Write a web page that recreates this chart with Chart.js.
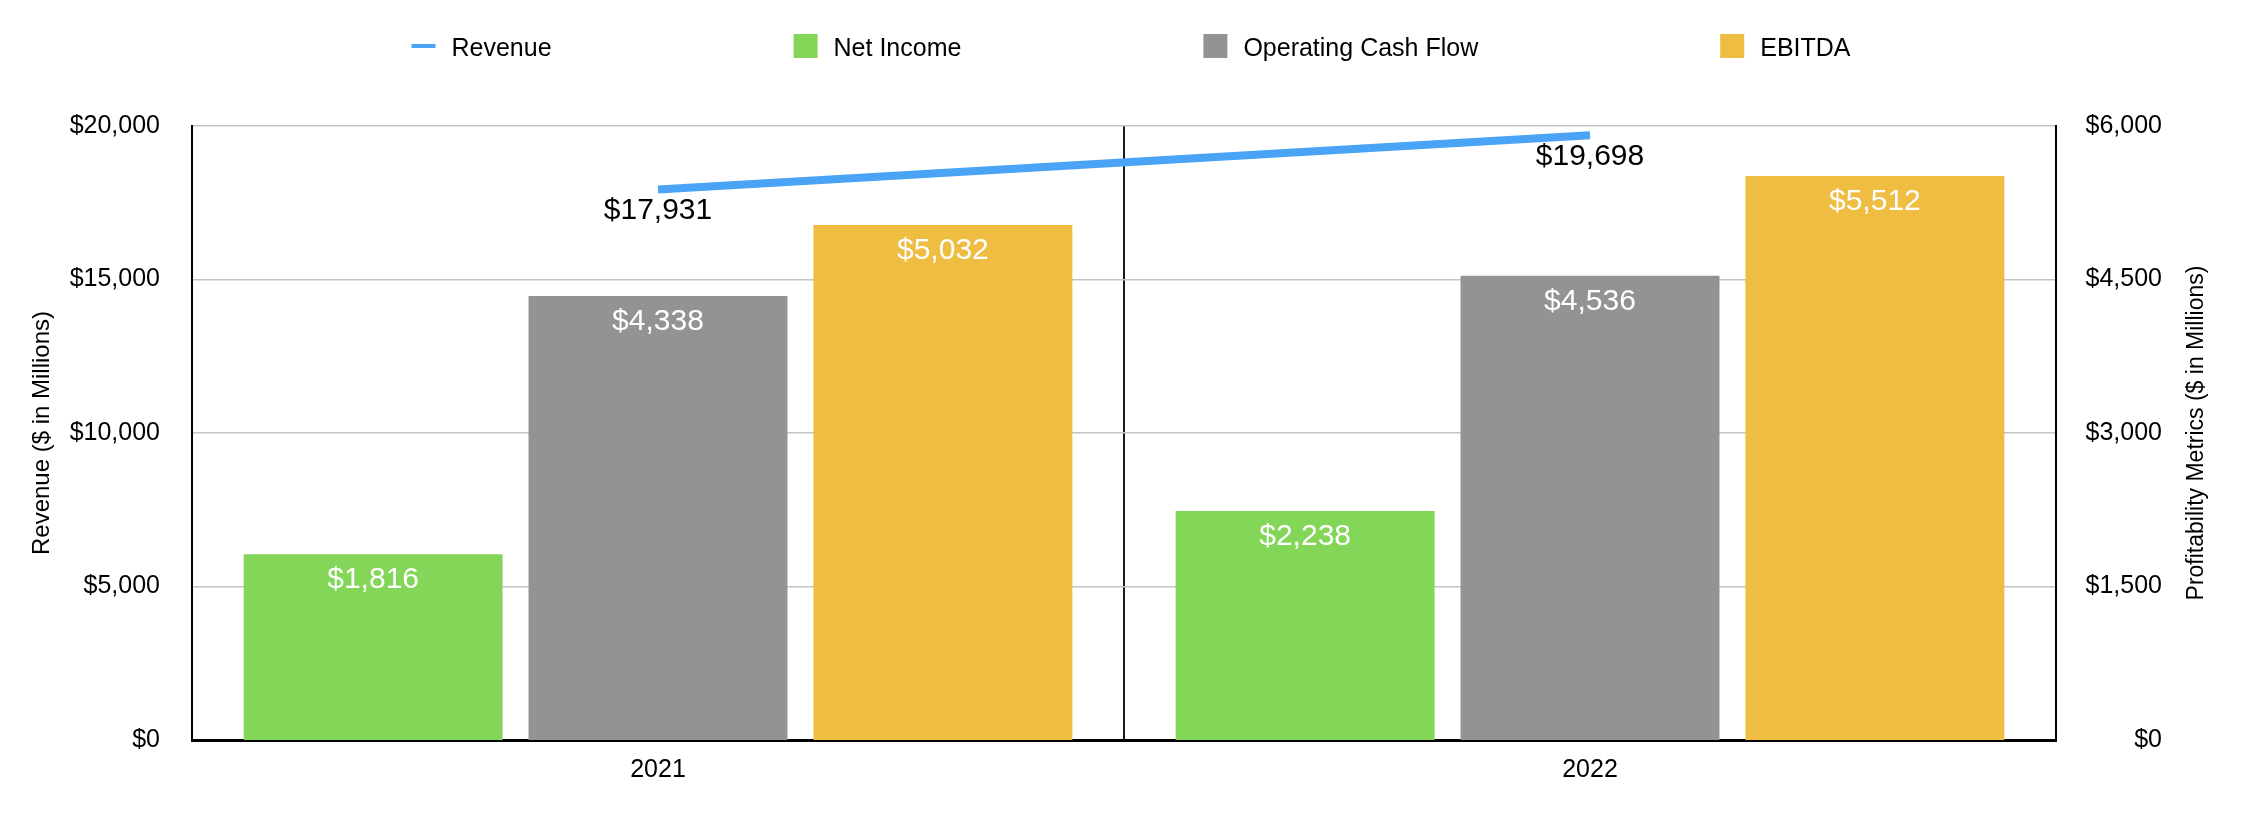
<!DOCTYPE html>
<html>
<head>
<meta charset="utf-8">
<title>Revenue and Profitability Metrics</title>
<script src="https://cdn.jsdelivr.net/npm/chart.js@4.4.1/dist/chart.umd.min.js"></script>
<style>
    html, body { margin: 0; padding: 0; background: #fff; }
    #wrap { width: 2244px; height: 832px; }
</style>
</head>
<body>
<div id="wrap"><canvas id="chart" width="2244" height="832"></canvas></div>
<script>
// ===== DATA =====
const years = ['2021', '2022'];
const revenue = [17931, 19698];
const netIncome = [1816, 2238];
const operatingCashFlow = [4338, 4536];
const ebitda = [5032, 5512];

const revenueTicks = [0, 5000, 10000, 15000, 20000];
const profitTicks = [0, 1500, 3000, 4500, 6000];

const leftTitle = 'Revenue ($ in Millions)';
const rightTitle = 'Profitability Metrics ($ in Millions)';

// ===== STYLE =====
const FONT = '"Liberation Sans", Arial, Helvetica, sans-serif';
const BLUE = '#4aa3f5';
const GREEN = '#84d658';
const GRAY = '#939393';
const YELLOW = '#eebd42';

const money = v => '$' + v.toLocaleString('en-US');

// value labels: white inside bars, black under the revenue line
const valueLabels = {
    id: 'valueLabels',
    afterDatasetsDraw(chart) {
        const ctx = chart.ctx;
        ctx.save();
        ctx.font = '30px ' + FONT;
        ctx.textAlign = 'center';
        ctx.textBaseline = 'middle';
        chart.data.datasets.forEach((ds, i) => {
            const meta = chart.getDatasetMeta(i);
            meta.data.forEach((el, j) => {
                const text = money(ds.data[j]);
                if (ds.type === 'line') {
                    ctx.fillStyle = '#000';
                    ctx.fillText(text, el.x, el.y + 21);
                } else {
                    ctx.fillStyle = '#fff';
                    ctx.fillText(text, el.x, el.y + 26);
                }
            });
        });
        ctx.restore();
    }
};

// legend row + both axis titles (right one reads bottom-to-top like the left)
const chrome = {
    id: 'chrome',
    afterDraw(chart) {
        const ctx = chart.ctx;
        ctx.save();
        ctx.font = '25px ' + FONT;
        ctx.textBaseline = 'alphabetic';

        const items = chart.data.datasets.map(ds => ({
            label: ds.label,
            color: ds.type === 'line' ? ds.borderColor : ds.backgroundColor,
            isLine: ds.type === 'line',
            w: 24 + 16 + ctx.measureText(ds.label).width
        }));
        const spacing = 242;
        const total = items.reduce((s, it) => s + it.w, 0) + spacing * (items.length - 1);
        let x = 1131 - total / 2;
        const y = 46;
        items.forEach(it => {
            ctx.fillStyle = it.color;
            if (it.isLine) ctx.fillRect(x, y - 2, 24, 4);
            else ctx.fillRect(x, y - 12, 24, 24);
            ctx.fillStyle = '#000';
            ctx.textAlign = 'left';
            ctx.fillText(it.label, x + 40, y + 9.5);
            x += it.w + spacing;
        });

        const midY = (chart.chartArea.top + chart.chartArea.bottom) / 2;
        ctx.textAlign = 'center';
        ctx.textBaseline = 'middle';
        [[42, leftTitle, 24], [2197, rightTitle, 23]].forEach(([tx, t, size]) => {
            ctx.save();
            ctx.font = size + 'px ' + FONT;
            ctx.translate(tx, midY);
            ctx.rotate(-Math.PI / 2);
            ctx.fillText(t, 0, 0);
            ctx.restore();
        });
        ctx.restore();
    }
};

const chart = new Chart(document.getElementById('chart'), {
    type: 'bar',
    data: {
        labels: years,
        datasets: [
            {
                type: 'line',
                label: 'Revenue',
                data: revenue,
                yAxisID: 'y',
                borderColor: BLUE,
                backgroundColor: BLUE,
                borderWidth: 8,
                borderCapStyle: 'butt',
                pointRadius: 0,
                tension: 0,
                order: 0
            },
            { label: 'Net Income', data: netIncome, yAxisID: 'y1', backgroundColor: GREEN, order: 1 },
            { label: 'Operating Cash Flow', data: operatingCashFlow, yAxisID: 'y1', backgroundColor: GRAY, order: 1 },
            { label: 'EBITDA', data: ebitda, yAxisID: 'y1', backgroundColor: YELLOW, order: 1 }
        ]
    },
    options: {
        responsive: false,
        animation: false,
        devicePixelRatio: 1,
        categoryPercentage: 0.917,
        barPercentage: 0.909,
        layout: { padding: { left: 0, right: 82, top: 126, bottom: 0 } },
        plugins: {
            legend: { display: false },
            tooltip: { enabled: false }
        },
        scales: {
            x: {
                offset: true,
                grid: { offset: true, color: '#1a1a1a', lineWidth: 2, drawTicks: false },
                border: { color: '#000', width: 3 },
                ticks: { color: '#000', font: { family: FONT, size: 25 }, padding: 15 },
                afterFit: s => { s.height = 92; }
            },
            y: {
                position: 'left',
                min: revenueTicks[0],
                max: revenueTicks[revenueTicks.length - 1],
                grid: { color: '#c4c4c4', lineWidth: 1.5, drawTicks: false },
                border: { color: '#000', width: 2 },
                ticks: {
                    stepSize: revenueTicks[1] - revenueTicks[0],
                    color: '#000',
                    padding: 32,
                    font: { family: FONT, size: 25 },
                    callback: v => money(v)
                },
                afterFit: s => { s.width = 192; }
            },
            y1: {
                position: 'right',
                min: profitTicks[0],
                max: profitTicks[profitTicks.length - 1],
                grid: { display: false, drawTicks: false },
                border: { color: '#000', width: 2 },
                ticks: {
                    stepSize: profitTicks[1] - profitTicks[0],
                    color: '#000',
                    crossAlign: 'far',
                    font: { family: FONT, size: 25 },
                    callback: v => money(v)
                },
                afterFit: s => { s.width = 106; }
            }
        }
    },
    plugins: [valueLabels, chrome]
});
</script>
</body>
</html>
